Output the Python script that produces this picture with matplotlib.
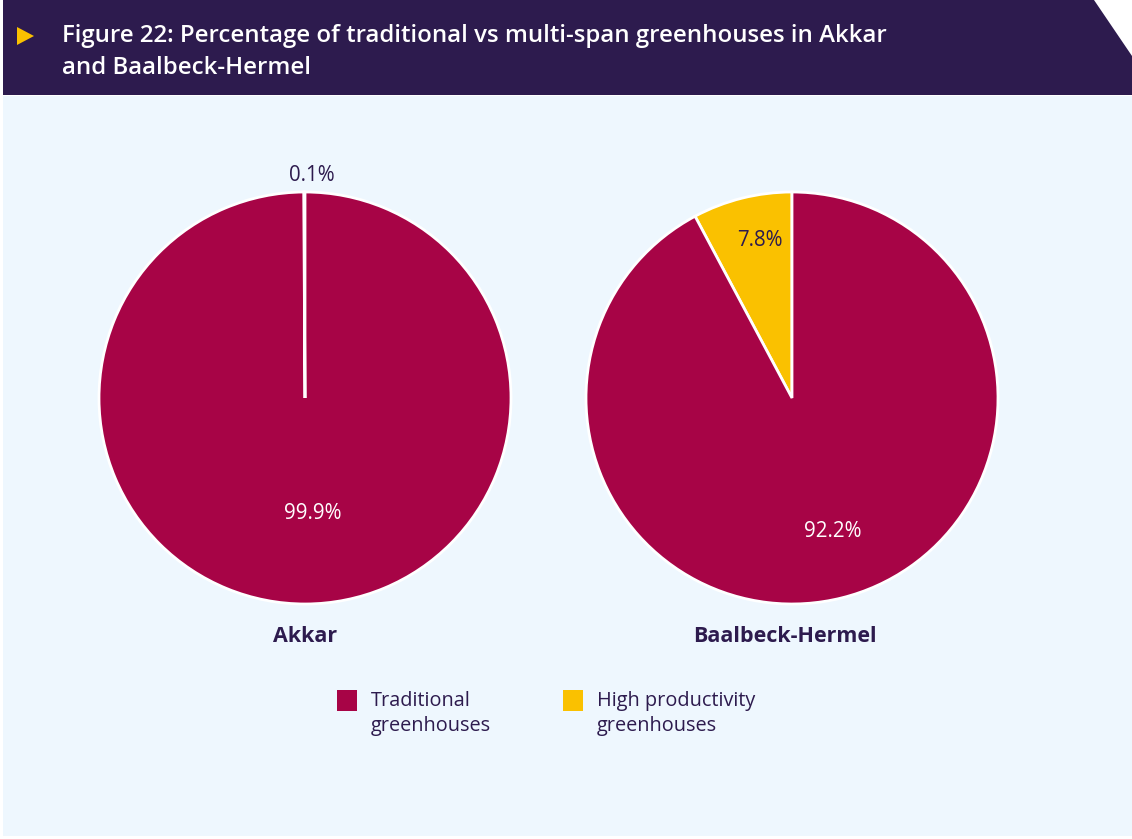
import numpy as np
import matplotlib.pyplot as plt
from matplotlib.patches import Polygon, Rectangle

plt.rcParams['font.family'] = ['Open Sans', 'DejaVu Sans']

regions = ['Akkar', 'Baalbeck-Hermel']
categories = ['High productivity\ngreenhouses', 'Traditional\ngreenhouses']
high_prod = [0.1, 7.8]
traditional = [99.9, 92.2]

CRIMSON = '#A70446'
YELLOW = '#FAC100'
NAVY = '#2D1B4E'
BG = '#EEF7FE'

W, H = 1132, 839
fig = plt.figure(figsize=(W / 100, H / 100), dpi=100)
fig.patch.set_facecolor('white')

# background panels drawn in pixel space
bg = fig.add_axes([0, 0, 1, 1])
bg.set_xlim(0, W)
bg.set_ylim(H, 0)
bg.axis('off')
bg.add_patch(Rectangle((3, 96), W - 3, H - 99, color=BG, lw=0))
bg.add_patch(Polygon([(3, 0), (1094, 0), (1132, 56), (1132, 95), (3, 95)],
                     closed=True, color=NAVY, lw=0))
bg.add_patch(Polygon([(17, 27), (17, 45), (34, 36)], closed=True, color=YELLOW, lw=0))
bg.text(62, 36, 'Figure 22: Percentage of traditional vs multi-span greenhouses in Akkar',
        color='white', fontsize=17.3, fontweight='semibold', va='center')
bg.text(62, 68, 'and Baalbeck-Hermel',
        color='white', fontsize=17.3, fontweight='semibold', va='center')

centers = [(305, 398), (792, 398)]
radius = 206
# (distance, text colour) for each wedge label, as fraction of radius
label_style = [[(1.08, NAVY), (0.56, 'white')],
               [(0.79, NAVY), (0.67, 'white')]]

for i, region in enumerate(regions):
    cx, cy = centers[i]
    ax = fig.add_axes([(cx - radius) / W, 1 - (cy + radius) / H,
                       2 * radius / W, 2 * radius / H])
    vals = [high_prod[i], traditional[i]]
    wedges, _ = ax.pie(vals, colors=[YELLOW, CRIMSON], startangle=90,
                       counterclock=True, radius=1,
                       wedgeprops=dict(edgecolor='white', linewidth=2))
    ax.set_xlim(-1, 1)
    ax.set_ylim(-1, 1)
    ax.axis('off')
    for w, v, (dist, col) in zip(wedges, vals, label_style[i]):
        mid = np.deg2rad((w.theta1 + w.theta2) / 2)
        ax.text(dist * np.cos(mid) + 0.035, dist * np.sin(mid), f'{v}%',
                ha='center', va='center', fontsize=14.8, color=col)
    bg.text(cx - 7 if i else cx, 637, region, ha='center', va='center',
            fontsize=15.5, fontweight='bold', color=NAVY)

# legend
legend_items = [(337, categories[1], CRIMSON), (563, categories[0], YELLOW)]
for x, label, col in legend_items:
    bg.add_patch(Rectangle((x, 690), 20, 21, color=col, lw=0))
    bg.text(x + 34, 691, label, ha='left', va='top', fontsize=14.3,
            color=NAVY, linespacing=1.3)

fig.savefig('out.png', dpi=100)
